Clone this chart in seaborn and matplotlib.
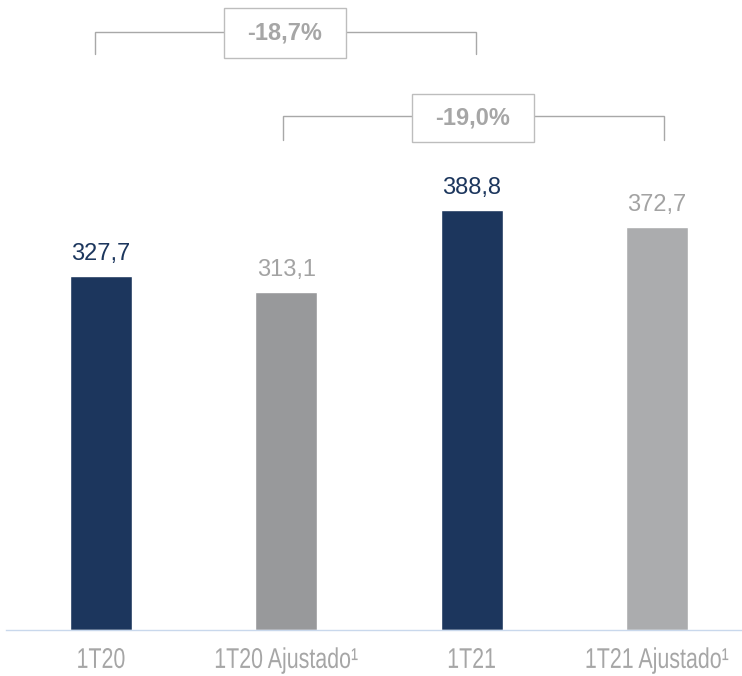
import matplotlib
matplotlib.use("Agg")
import matplotlib.pyplot as plt
from matplotlib.patches import Rectangle
from matplotlib.patheffects import AbstractPathEffect
from matplotlib.transforms import Affine2D
import seaborn as sns
import pandas as pd

categories = ["1T20", "1T20 Ajustado¹", "1T21", "1T21 Ajustado¹"]
values = [327.7, 313.1, 388.8, 372.7]
value_labels = ["327,7", "313,1", "388,8", "372,7"]
bar_colors = ["#1c365d", "#98999b", "#1c365d", "#abacae"]
label_colors = ["#1c365d", "#a3a3a3", "#1c365d", "#a3a3a3"]
change_labels = ["-18,7%", "-19,0%"]
change_pairs = [(0, 2), (1, 3)]


class Tall(AbstractPathEffect):
    """Stretch glyphs vertically about the baseline (narrow-font look)."""
    def __init__(self, s=1.333):
        super().__init__()
        self.s = s

    def draw_path(self, renderer, gc, tpath, affine, rgbFace=None):
        m = affine.get_matrix().copy()
        m[1, 0] *= self.s
        m[1, 1] *= self.s
        renderer.draw_path(gc, tpath, Affine2D(m), rgbFace)


sns.set_theme(style="white")
plt.rcParams['font.family'] = ['Liberation Sans', 'DejaVu Sans']

df = pd.DataFrame({"cat": categories, "val": values})

fig = plt.figure(figsize=(7.42, 6.76), dpi=100)
W, H = 742, 676
ax = fig.add_axes([6 / W, 46 / H, 1 - 6 / W, 1 - 46 / H])

sns.barplot(data=df, x="cat", y="val", hue="cat", palette=bar_colors,
            legend=False, width=0.335, saturation=1, ax=ax)

ax.set_xlim(-0.513, 3.459)
ax.set_ylim(0, 583.2)

for i, cont in enumerate(ax.containers):
    ax.bar_label(cont, labels=[value_labels[i]], padding=8, fontsize=17,
                 color=label_colors[i])

for s in ["top", "left", "right"]:
    ax.spines[s].set_visible(False)
ax.spines["bottom"].set_color("#c9d8ec")
ax.spines["bottom"].set_linewidth(1.0)
ax.set_yticks([])
ax.set_xlabel("")
ax.set_ylabel("")
ax.tick_params(axis="x", length=0, pad=16.5)
ax.set_xticks(range(len(categories)))
ax.set_xticklabels(categories, fontsize=15.4, color="#a6a6a6")
for t in ax.get_xticklabels():
    t.set_path_effects([Tall(1.333)])

# brackets
brackets = [
    dict(x0=-0.032, x1=2.023, ytop=553.6, ybot=533.0, bx0=0.664, bx1=1.322, by0=529.5, by1=575.9),
    dict(x0=0.982, x1=3.038, ytop=475.8, ybot=453.6, bx0=1.678, bx1=2.336, by0=451.8, by1=496.2),
]
line_col = "#a8a8a8"
for b, lab in zip(brackets, change_labels):
    ax.plot([b["x0"], b["x0"], b["x1"], b["x1"]],
            [b["ybot"], b["ytop"], b["ytop"], b["ybot"]],
            color=line_col, lw=1.0, clip_on=False, solid_joinstyle="miter")
    ax.add_patch(Rectangle((b["bx0"], b["by0"]), b["bx1"] - b["bx0"], b["by1"] - b["by0"],
                           facecolor="white", edgecolor="#bdbdbd", lw=1.0, zorder=5,
                           clip_on=False))
    ax.text((b["bx0"] + b["bx1"]) / 2, (b["by0"] + b["by1"]) / 2, lab,
            ha="center", va="center", fontsize=17, fontweight="bold",
            color="#a6a6a6", zorder=6)

fig.savefig("out.png", dpi=100)
